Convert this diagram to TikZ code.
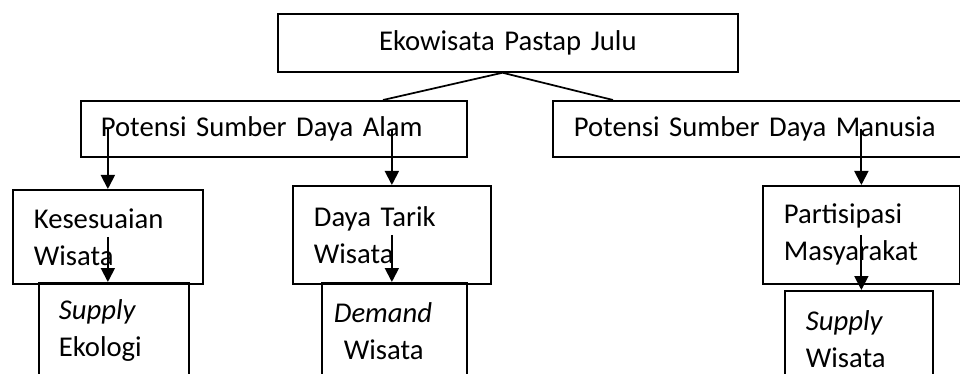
\documentclass[tikz,border=0pt]{standalone}
\usepackage{fontspec}
\setmainfont{Carlito}
\usetikzlibrary{arrows.meta}

\tikzset{
  box/.style={draw, line width=1.3pt, anchor=north west, align=left, inner ysep=0pt,
    font=\fontsize{21.5}{27.75}\selectfont},
  link/.style={line width=1.3pt},
  arr/.style={line width=1.4pt, -{Triangle[width=10.5pt,length=10.5pt]}},
}

\begin{document}
\begin{tikzpicture}[x=0.75pt, y=-0.75pt]
  \useasboundingbox (0,0) rectangle (960,374);
  \clip (0,0) rectangle (960,374);
  % top
  \node[box, align=center, text width=345pt, inner xsep=0pt, minimum height=43.5pt] (eko) at (277,13) {Ekowisata Pastap Julu};
  % potensi
  \node[box, text width=259.5pt, inner xsep=15pt, minimum height=42pt] (alam) at (80,100) {Potensi Sumber Daya Alam};
  \node[box, text width=276pt, inner xsep=15.75pt, minimum height=42pt] (manusia) at (552,100) {Potensi Sumber Daya Manusia};
  \coordinate (alam top) at (383,100);
  \coordinate (manusia top) at (613,100);
  \draw[link] ([xshift=-4pt]eko.south) -- (alam top);
  \draw[link] ([xshift=-4pt]eko.south) -- (manusia top);
  % level 3
  \node[box, text width=111pt, inner xsep=15.75pt, minimum height=70.5pt] (kes) at (12,189) {Kesesuaian\\Wisata};
  \node[box, text width=117pt, inner xsep=15.75pt, minimum height=73.5pt] (tarik) at (292,185) {Daya Tarik\\Wisata};
  \node[box, text width=116.25pt, inner xsep=15.75pt, minimum height=73.5pt] (partisipasi) at (762,185) {Partisipasi\\Masyarakat};
  % level 4
  \node[box, text width=82.5pt, inner xsep=15pt, minimum height=72pt] (ekologi) at (38,282) {\textit{Supply}\\Ekologi};
  \node[box, text width=90.75pt, inner xsep=9pt, minimum height=72pt] (demand) at (321,282) {\textit{Demand}\\\hspace*{7.5pt}Wisata};
  \node[box, text width=79.5pt, inner xsep=15.75pt, minimum height=72pt] (supply) at (784,290) {\textit{Supply}\\Wisata};
  % arrows
  \draw[arr] (kes.north |- alam.center) -- (kes.north);
  \draw[arr] (tarik.north |- alam.center) -- (tarik.north);
  \draw[arr] (partisipasi.north |- manusia.center) -- (partisipasi.north);
  \draw[arr] (kes.center) -- (kes.center |- ekologi.north);
  \draw[arr] (tarik.center) -- (tarik.center |- demand.north);
  \draw[arr] (partisipasi.center) -- (partisipasi.center |- supply.north);
\end{tikzpicture}
\end{document}
